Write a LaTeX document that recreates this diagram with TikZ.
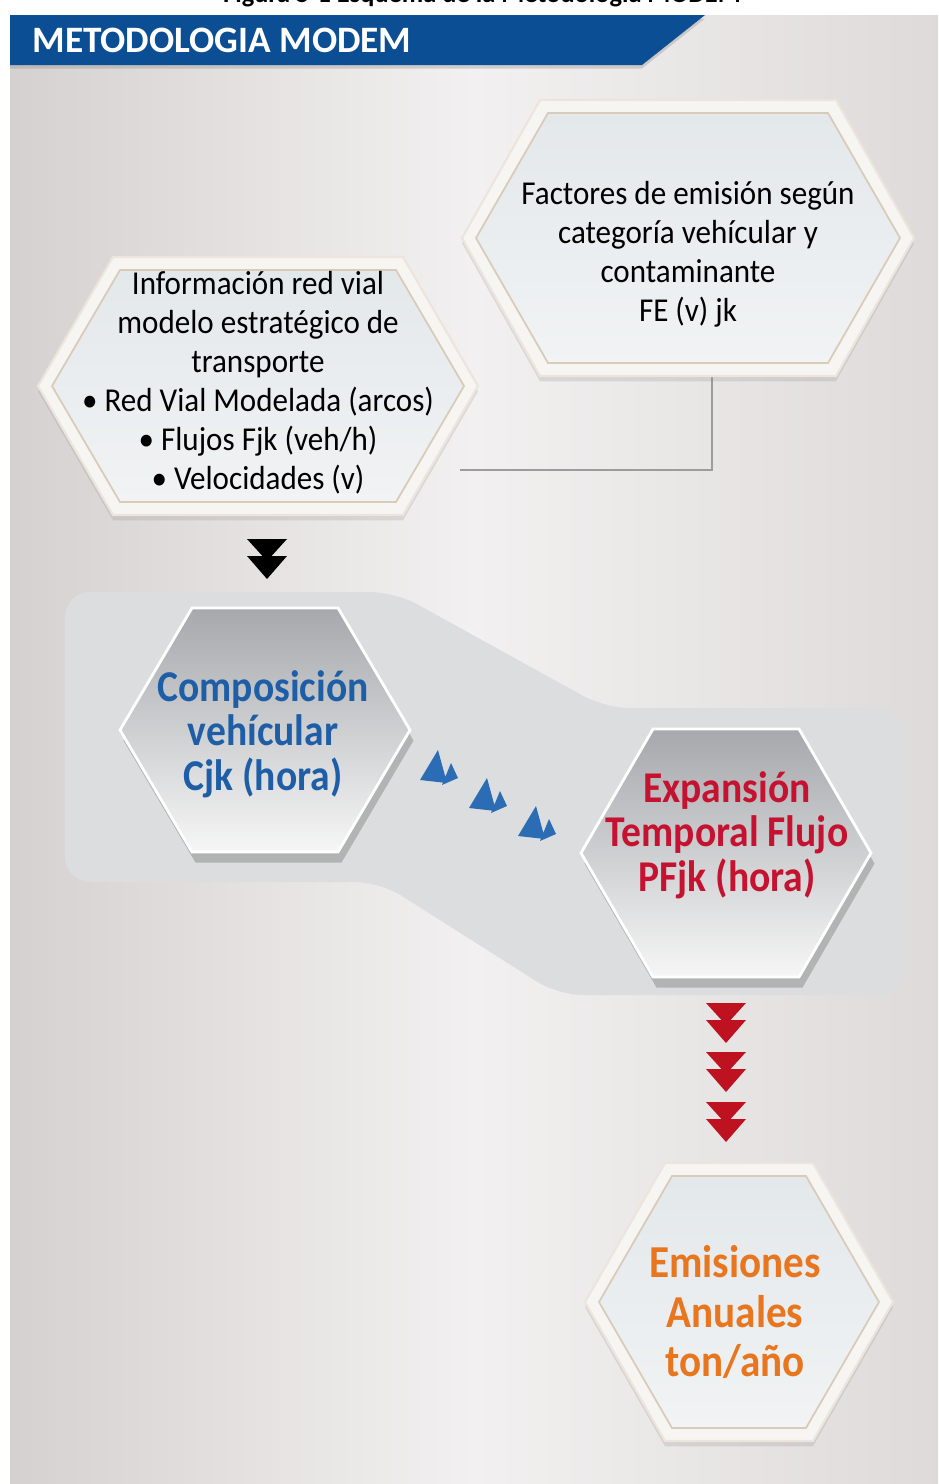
\documentclass[tikz,border=0pt]{standalone}
\usepackage{fontspec}
\setmainfont{Carlito}
\newfontfamily\slimfont[FakeStretch=0.93]{Carlito}
\newfontfamily\slimbfont[FakeStretch=0.9]{Carlito}
\usetikzlibrary{shadows}

\definecolor{banner}{HTML}{0C4E94}
\definecolor{bgedge}{HTML}{D6D1D1}
\definecolor{bgmid}{HTML}{F2F0F0}
\definecolor{panel}{HTML}{DCDDDE}
\definecolor{hexrim}{HTML}{F7F5F2}
\definecolor{hexline}{HTML}{D8CBBA}
\definecolor{platetop}{HTML}{E3E8EB}
\definecolor{platebot}{HTML}{F1F3F4}
\definecolor{hexdark}{HTML}{A6A8AC}
\definecolor{hexlight}{HTML}{F6F6F6}
\definecolor{compblue}{HTML}{1E5EA6}
\definecolor{exred}{HTML}{C51230}
\definecolor{emorange}{HTML}{E8761E}
\definecolor{arrred}{HTML}{BE1220}
\definecolor{arrblue}{HTML}{2B6CB4}
\definecolor{linkgrey}{HTML}{9C9C9C}

\newcommand{\hexa}[6][]{%
  \path[#1] (#2-#4,#3) -- (#2-#4+#6,#3-#5) -- (#2+#4-#6,#3-#5)
    -- (#2+#4,#3) -- (#2+#4-#6,#3+#5) -- (#2-#4+#6,#3+#5) -- cycle;}

\begin{document}
\begin{tikzpicture}[x=0.01cm,y=-0.01cm,
    rim/.style={fill=hexrim,draw=hexline!50,line width=0.6pt,
      drop shadow={shadow xshift=0pt,shadow yshift=-1.5pt,opacity=0.2}},
    plate/.style={top color=platetop,bottom color=platebot,draw=hexline,line width=0.5pt},
    stone/.style={top color=hexdark,bottom color=hexlight,draw=white,line width=0.8pt,
      drop shadow={shadow xshift=1pt,shadow yshift=-3pt,opacity=0.45}},
    txtplain/.style={align=center,text=black,font=\slimfont\fontsize{9.5}{11.1}\selectfont},
    txtbold/.style={align=center,font=\slimbfont\bfseries\fontsize{12.5}{12.7}\selectfont},
    link/.style={draw=linkgrey,line width=0.5pt},
    dblarrow/.pic={\fill (-20,-20) -- (20,-20) -- (0,2) -- cycle
                         (-20,-3) -- (20,-3) -- (0,20) -- cycle;},
    peaks/.pic={\fill (0,30) -- (18,0) -- (27,33) -- cycle
                      (22,35) -- (31,13) -- (38,28) -- cycle;}]
  \useasboundingbox (0,0) rectangle (938,1484);
  \fill[white] (0,0) rectangle (938,1484);
  \shade[left color=bgedge,right color=bgedge!80!white,middle color=bgmid]
      (10,15) rectangle (938,1484);

  \node[anchor=base,font=\bfseries\fontsize{7.5}{9}\selectfont] (cap) at (482,2)
      {Figura 5-1 Esquema de la Metodología MODEM};

  \fill[banner,drop shadow={shadow xshift=0pt,shadow yshift=-1pt,opacity=0.3}]
      (10,15) -- (705,15) -- (642,65) -- (10,65) -- cycle;
  \node[anchor=west,text=white,font=\bfseries\fontsize{10.6}{12}\selectfont] (head) at (20,40)
      {METODOLOGIA MODEM};

  \fill[panel,rounded corners=0.25cm]
      (65,592) -- (395,592) -- (605,708) -- (905,708) -- (905,995)
      -- (558,995) -- (380,882) -- (65,882) -- cycle;

  \coordinate (fe-foot) at (712,375);
  \coordinate (info-side) at (460,470);
  \draw[link] (fe-foot) |- (info-side);

  \hexa[rim]{688}{238}{226}{138}{78}
  \hexa[plate]{688}{238}{212}{125}{72}
  \node[txtplain] (fe) at (688,254)
      {Factores de emisión según\\categoría vehícular y\\contaminante\\FE (v) jk};

  \hexa[rim]{258}{386}{220}{129}{75}
  \hexa[plate]{258}{386}{206}{116}{68}
  \node[txtplain] (info) at (258,383)
      {Información red vial\\modelo estratégico de\\transporte\\
       \textbullet{} Red Vial Modelada (arcos)\\\textbullet{} Flujos Fjk (veh/h)\\
       \textbullet{} Velocidades (v)};

  \pic[fill=black] at (267,559) {dblarrow};

  \hexa[stone]{265}{730}{145}{122}{72}
  \node[txtbold,text=compblue] (comp) at (263,734)
      {Composición\\vehícular\\Cjk (hora)};

  \pic[fill=arrblue] at (420,750) {peaks};
  \pic[fill=arrblue] at (469,778) {peaks};
  \pic[fill=arrblue] at (518,806) {peaks};

  \hexa[stone]{726}{853}{145}{124}{72}
  \node[txtbold,text=exred] (expan) at (727,835)
      {Expansión\\Temporal Flujo\\PFjk (hora)};

  \pic[fill=arrred] at (726,1023) {dblarrow};
  \pic[fill=arrred] at (726,1072) {dblarrow};
  \pic[fill=arrred] at (726,1122) {dblarrow};

  \hexa[rim]{739}{1302}{154}{139}{80}
  \hexa[plate]{739}{1302}{140}{126}{73}
  \node[txtbold,text=emorange,font=\slimbfont\bfseries\fontsize{13}{14.2}\selectfont] (emis) at (735,1312)
      {Emisiones\\Anuales\\ton/año};
\end{tikzpicture}
\end{document}
